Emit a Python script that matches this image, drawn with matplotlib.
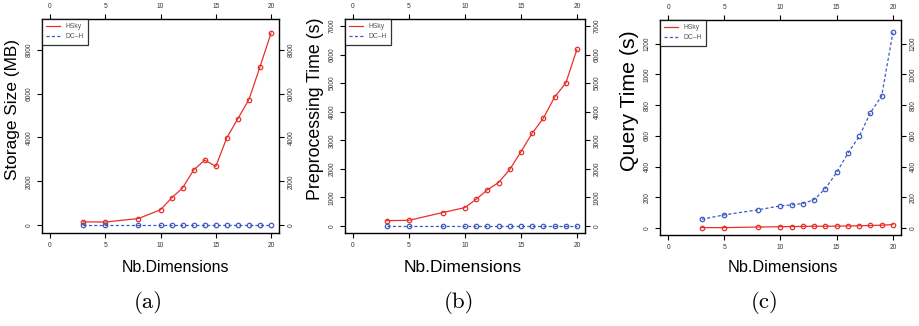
import matplotlib
matplotlib.use("Agg")
import matplotlib.pyplot as plt

plt.rcParams['font.family'] = ['Liberation Sans', 'DejaVu Sans']

dims = [3, 5, 8, 10, 11, 12, 13, 14, 15, 16, 17, 18, 19, 20]

# (a) storage size (MB)
storage_hsky = [150, 140, 300, 700, 1235, 1700, 2515, 2970, 2680, 3990, 4860, 5730, 7225, 8765]
storage_dch = [5, 5, 5, 5, 5, 5, 5, 5, 5, 5, 5, 5, 5, 5]

# (b) preprocessing time (s)
prep_hsky = [187, 200, 470, 645, 937, 1265, 1522, 1980, 2600, 3245, 3770, 4510, 5000, 6180]
prep_dch = [3, 3, 3, 3, 3, 3, 3, 3, 3, 3, 3, 3, 3, 3]

# (c) query time (s)
query_hsky = [2, 2, 6, 8, 9, 10, 11, 11, 12, 13, 14, 16, 18, 22]
query_dch = [57, 85, 118, 144, 150, 159, 185, 257, 362, 487, 596, 751, 860, 1274]

x_ticks = [0, 5, 10, 15, 20]
ylabels = ["Storage Size (MB)", "Preprocessing Time (s)", "Query Time (s)"]
yticks = [[0, 2000, 4000, 6000, 8000],
          [0, 1000, 2000, 3000, 4000, 5000, 6000, 7000],
          [0, 200, 400, 600, 800, 1000, 1200]]
captions = ["(a)", "(b)", "(c)"]

RED = "#E8302A"
BLUE = "#3F5BBF"

W, H = 920, 326
fig = plt.figure(figsize=(W / 100, H / 100), dpi=100)

panels = [
    # axes rect, ylim, ylabel (x, y, size), xlabel (x, size), caption x
    ([42 / W, 1 - 233 / H, 237 / W, 214 / H], (-360, 9410), (12.5, 109, 12.4), (176, 11.4), 148),
    ([345 / W, 1 - 233 / H, 240 / W, 214 / H], (-245, 7245), (315, 109, 12.8), (463, 12.5), 459),
    ([660 / W, 1 - 235 / H, 241 / W, 215 / H], (-46, 1355), (629.5, 101, 15.3), (783, 11.7), 765),
]
series = [(storage_hsky, storage_dch), (prep_hsky, prep_dch), (query_hsky, query_dch)]

for i, (pos, ylim, ylab, xlab, capx) in enumerate(panels):
    ax = fig.add_axes(pos)
    hsky, dch = series[i]
    ax.plot(dims, hsky, color=RED, lw=0.9, marker='o', ms=3.2, mfc='none',
            mec=RED, mew=0.9, label="HSky")
    ax.plot(dims, dch, color=BLUE, lw=0.9, ls=(0, (2.5, 1.8)), marker='o', ms=3.2,
            mfc='none', mec=BLUE, mew=0.9, label="DC\u2013H")
    ax.set_xlim(-0.72, 20.72)
    ax.set_ylim(*ylim)
    ax.set_xticks(x_ticks)
    ax.set_yticks(yticks[i])
    ax.tick_params(axis='both', direction='out', length=3.5, width=0.8,
                   labelsize=4.8, labelcolor='#333333', pad=3,
                   top=True, right=True, labeltop=True, labelright=True)
    for lab in ax.get_yticklabels():
        lab.set_rotation(90)
        lab.set_va('center')
    for sp in ax.spines.values():
        sp.set_linewidth(1.0)

    fig.text(ylab[0] / W, 1 - ylab[1] / H, ylabels[i], fontsize=ylab[2],
             rotation=90, ha='center', va='center')
    fig.text(xlab[0] / W, 1 - 268 / H, "Nb.Dimensions", fontsize=xlab[1],
             ha='center', va='center')

    leg = ax.legend(loc='upper left', fontsize=4.9, frameon=True, fancybox=False,
                    borderaxespad=0, handlelength=2.0, borderpad=0.6,
                    labelspacing=0.5, handletextpad=0.9)
    leg.get_frame().set_edgecolor('black')
    leg.get_frame().set_linewidth(0.9)
    for t in leg.get_texts():
        t.set_color('#555555')
    for h in leg.get_lines():
        h.set_marker('')

    fig.text(capx / W, 1 - 302 / H, captions[i], family='cmr10', fontsize=16.5,
             ha='center', va='center')

fig.savefig("out.png", dpi=100)
